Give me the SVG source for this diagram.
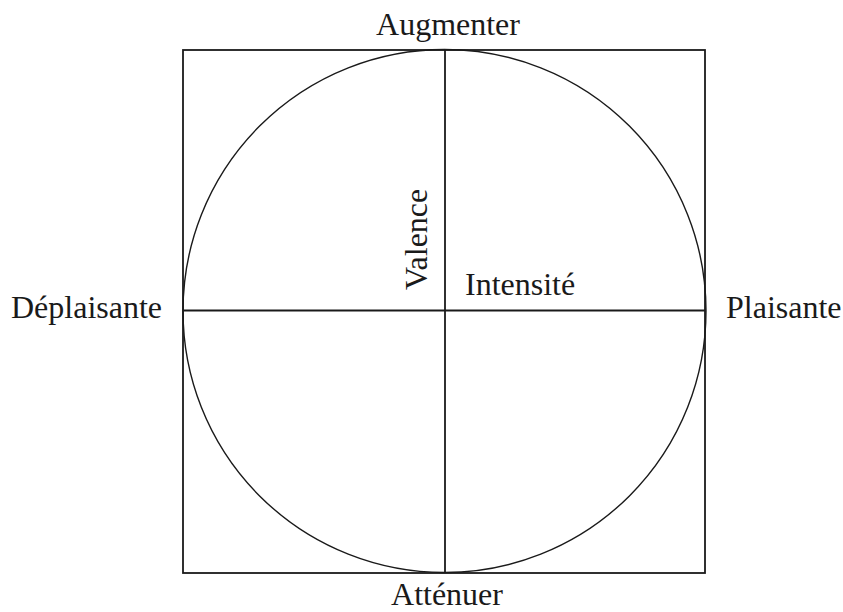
<svg xmlns="http://www.w3.org/2000/svg" width="843" height="612" viewBox="0 0 843 612">
<style>
.ln{stroke:#1a1a1a;stroke-width:1.8;fill:none}
.t{font-family:"Liberation Serif","Times New Roman",serif;font-size:32px;fill:#1a1a1a}
</style>
<rect width="843" height="612" fill="#fff"/>
<g id="frame"><rect class="ln" x="183" y="50" width="522" height="523"/></g>
<g id="circle"><circle class="ln" cx="444.5" cy="311" r="261.5" style="stroke-width:1.4"/></g>
<g id="connectors">
<line class="ln" x1="445" y1="50" x2="445" y2="573"/>
<line class="ln" x1="183" y1="310.5" x2="705" y2="310.5"/>
</g>
<g id="labels">
<text class="t" x="448" y="35" text-anchor="middle">Augmenter</text>
<text class="t" x="447" y="605" text-anchor="middle">Atténuer</text>
<text class="t" x="11" y="318">Déplaisante</text>
<text class="t" x="726" y="318">Plaisante</text>
<text class="t" x="465" y="295">Intensité</text>
<text class="t" transform="translate(427,290) rotate(-90)">Valence</text>
</g>
</svg>
